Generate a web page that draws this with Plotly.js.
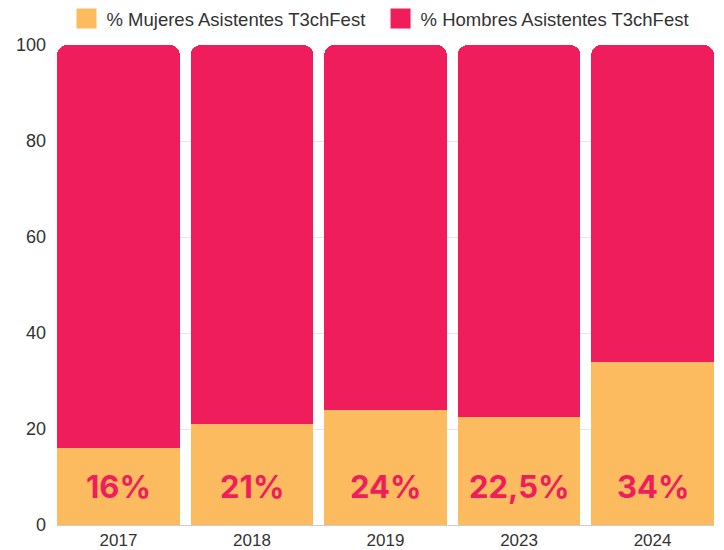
<!DOCTYPE html>
<html>
<head>
<meta charset="utf-8">
<script src="https://cdn.plot.ly/plotly-3.0.1.min.js"></script>
<style>html,body{margin:0;padding:0;background:#fff}#chart{width:724px;height:550px}</style>
</head>
<body>
<div id="chart"></div>
<script>
const years = ['2017', '2018', '2019', '2023', '2024'];
const mujeres = [16, 21, 24, 22.5, 34];
const hombres = [84, 79, 76, 77.5, 66];
const labels = ['16%', '21%', '24%', '22,5%', '34%'];
const seriesNames = ['% Mujeres Asistentes T3chFest', '% Hombres Asistentes T3chFest'];
const colors = ['#FDBB5F', '#F01D5C'];

const data = [
  {type: 'bar', name: seriesNames[0], x: years, y: mujeres,
   marker: {color: colors[0]}, showlegend: false},
  {type: 'bar', name: seriesNames[1], x: years, y: hombres,
   marker: {color: colors[1]}, showlegend: false}
];
// legend entries with larger square swatches
seriesNames.forEach((n, i) => data.push({
  type: 'scatter', mode: 'markers', name: n + '  ', x: [null], y: [null],
  marker: {symbol: 'square', size: 16, color: colors[i], line: {color: colors[i], width: 4}},
  showlegend: true, hoverinfo: 'skip'
}));

const annotations = labels.map((t, i) => ({
  x: i, y: 8, xref: 'x', yref: 'y', text: '<b>' + t + '</b>', showarrow: false,
  font: {family: 'Inter, "Open Sans", sans-serif', size: 31, color: '#F01D5C'}
}));

const layout = {
  width: 724, height: 550,
  margin: {l: 57, r: 10, t: 45, b: 25},
  barmode: 'stack', bargap: 0.08, barcornerradius: 10,
  paper_bgcolor: '#fff', plot_bgcolor: '#fff',
  font: {family: '"Liberation Sans", Arial, sans-serif', size: 17, color: '#333'},
  showlegend: true,
  legend: {orientation: 'h', x: 0.5, xanchor: 'center', y: 1, yref: 'container', yanchor: 'top',
           font: {size: 18.5, color: '#333'}, traceorder: 'normal', itemsizing: 'trace'},
  xaxis: {type: 'category', range: [-0.46, 4.46], showgrid: false, showline: true,
          linecolor: '#ccc', linewidth: 1, ticks: '', ticklabelstandoff: 0, tickfont: {size: 17, color: '#333'}},
  yaxis: {range: [0, 100], dtick: 20, showgrid: true, gridcolor: '#e6e6e6', zeroline: false,
          showline: false, ticks: '', ticklabelstandoff: 10, tickfont: {size: 18, color: '#333'}},
  annotations: annotations
};

Plotly.newPlot('chart', data, layout, {displayModeBar: false});
</script>
</body>
</html>
